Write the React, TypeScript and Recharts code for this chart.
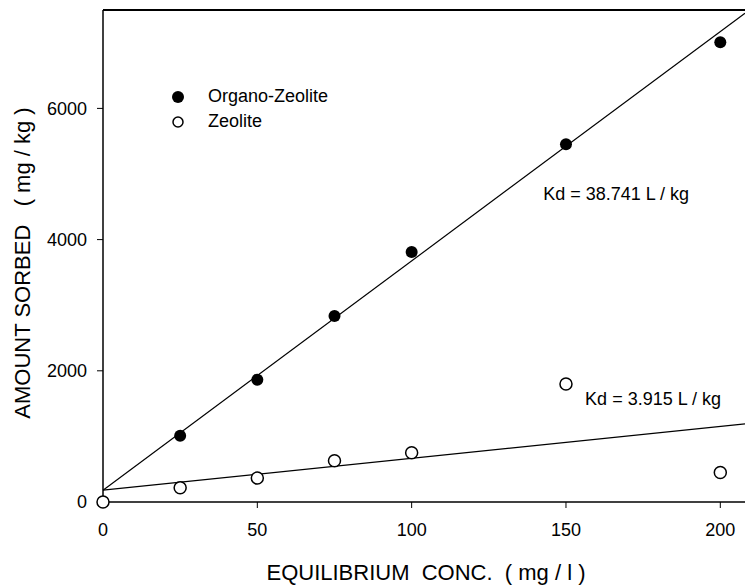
import React from 'react';
import {
  ComposedChart,
  Scatter,
  Line,
  XAxis,
  YAxis,
  ReferenceLine,
  ReferenceDot,
} from 'recharts';

// values
const concentration = [0, 25, 50, 75, 100, 150, 200];
const organoZeolite = [null, 1010, 1865, 2835, 3810, 5455, 7010];
const zeolite = [0, 218, 365, 628, 750, 1800, 450];

// fitted lines, end points
const fitX = [0, 208];
const organoFitY = [180, 7450];
const zeoliteFitY = [180, 1190];

const xTicks = [0, 50, 100, 150, 200];
const yTicks = [0, 2000, 4000, 6000];

const kdText = ['Kd = 38.741 L / kg', 'Kd = 3.915 L / kg'];
const kdAtX = [142.6, 156.2];
const kdAtY = [4710, 1585];

const FONT = '"Liberation Sans", Arial, Helvetica, sans-serif';

const organoData = concentration
  .map((x, i) => ({ x, y: organoZeolite[i] }))
  .filter((d) => d.y !== null);
const zeoliteData = concentration.map((x, i) => ({ x, y: zeolite[i] }));
const organoFit = fitX.map((x, i) => ({ x, y: organoFitY[i] }));
const zeoliteFit = fitX.map((x, i) => ({ x, y: zeoliteFitY[i] }));

const FilledDot = (p: any) => <circle cx={p.cx} cy={p.cy} r={6} fill="#000" />;
const OpenDot = (p: any) => (
  <circle cx={p.cx} cy={p.cy} r={6} fill="#fff" stroke="#000" strokeWidth={1.5} />
);

const kdLabel = (text: string) => (props: any) => {
  const vb = props.viewBox;
  return (
    <text x={vb.x} y={vb.y} dy="0.36em" fontSize={18} fontFamily={FONT} fill="#000">
      {text}
    </text>
  );
};

const xTitle = (props: any) => {
  const vb = props.viewBox;
  return (
    <text x={vb.x + vb.width / 2 + 2} y={580} textAnchor="middle" fontSize={22} fontFamily={FONT} fill="#000">
      {'EQUILIBRIUM\u00a0 CONC.\u00a0 ( mg / l )'}
    </text>
  );
};

const yTitle = () => (
  <text
    transform="translate(30, 263) rotate(-90)"
    textAnchor="middle"
    fontSize={22}
    fontFamily={FONT}
    fill="#000"
  >
    {'AMOUNT SORBED\u00a0\u00a0 ( mg / kg )'}
  </text>
);

export default function App() {
  return (
    <div style={{ position: 'absolute', left: 0, top: 0, width: 745, height: 585, background: '#fff', fontFamily: FONT }}>
      <ComposedChart width={745} height={585} margin={{ top: 10, right: 0, bottom: 0, left: 0 }}>
        <XAxis
          type="number"
          dataKey="x"
          domain={[0, 208]}
          ticks={xTicks}
          height={83}
          tickSize={6}
          tickMargin={15}
          axisLine={{ stroke: '#000', strokeWidth: 1.5 }}
          tickLine={{ stroke: '#000' }}
          tick={{ fontSize: 18, fill: '#000', fontFamily: FONT }}
          allowDuplicatedCategory={false}
          label={{ content: xTitle }}
        />
        <YAxis
          type="number"
          dataKey="y"
          domain={[0, 7500]}
          ticks={yTicks}
          width={103}
          tickSize={6}
          tickMargin={10}
          axisLine={{ stroke: '#000', strokeWidth: 1.5 }}
          tickLine={{ stroke: '#000' }}
          tick={{ fontSize: 18, fill: '#000', fontFamily: FONT }}
          label={{ content: yTitle }}
        />
        <ReferenceLine y={7500} stroke="#000" strokeWidth={2} />
        <Line data={organoFit} dataKey="y" type="linear" stroke="#000" strokeWidth={1.2} dot={false} isAnimationActive={false} />
        <Line data={zeoliteFit} dataKey="y" type="linear" stroke="#000" strokeWidth={1.2} dot={false} isAnimationActive={false} />
        <Scatter name="Organo-Zeolite" data={organoData} dataKey="y" shape={FilledDot} isAnimationActive={false} />
        <Scatter name="Zeolite" data={zeoliteData} dataKey="y" shape={OpenDot} isAnimationActive={false} />
        {kdText.map((t, i) => (
          <ReferenceDot key={t} x={kdAtX[i]} y={kdAtY[i]} r={0} fill="none" stroke="none" label={{ content: kdLabel(t) }} />
        ))}
      </ComposedChart>
      <div style={{ position: 'absolute', left: 172, top: 84, fontSize: 18, lineHeight: '25px', color: '#000' }}>
        <div style={{ display: 'flex', alignItems: 'center', height: 25 }}>
          <svg width={12} height={12}><circle cx={6} cy={6} r={6} fill="#000" /></svg>
          <span style={{ marginLeft: 24 }}>Organo-Zeolite</span>
        </div>
        <div style={{ display: 'flex', alignItems: 'center', height: 25 }}>
          <svg width={12} height={12}><circle cx={6} cy={6} r={5} fill="#fff" stroke="#000" strokeWidth={1.5} /></svg>
          <span style={{ marginLeft: 24 }}>Zeolite</span>
        </div>
      </div>
    </div>
  );
}
